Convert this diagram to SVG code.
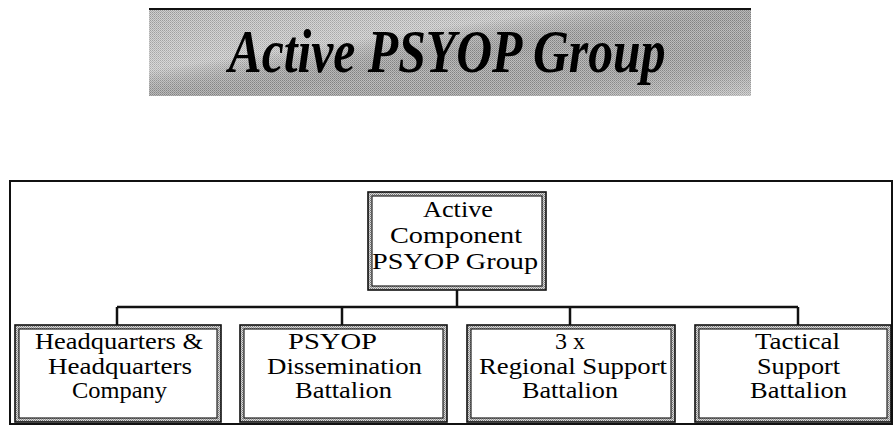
<svg xmlns="http://www.w3.org/2000/svg" width="894" height="425" viewBox="0 0 894 425">
<style>
.t{font-family:"Liberation Serif","Times New Roman",serif;font-size:24px;fill:#000;text-anchor:middle}
.ttl{font-family:"Liberation Serif","Times New Roman",serif;font-size:61px;font-weight:bold;font-style:italic;fill:#000;text-anchor:middle}
.ob{fill:url(#dots);stroke:#111;stroke-width:1.6}
.ib{fill:#fff;stroke:#222;stroke-width:1.2}
.con{stroke:#111;stroke-width:2.5;fill:none}
</style>
<defs>
<pattern id="dots" width="2" height="2" patternUnits="userSpaceOnUse">
<rect width="2" height="2" fill="#d8d8d8"/>
<rect width="1" height="1" fill="#777"/>
<rect x="1" y="1" width="1" height="1" fill="#999"/>
</pattern>
<pattern id="ban" width="2" height="2" patternUnits="userSpaceOnUse">
<rect width="2" height="2" fill="#c8c8c8"/>
<rect width="1" height="1" fill="#8a8a8a"/>
<rect x="1" y="1" width="1" height="1" fill="#a0a0a0"/>
</pattern>
<linearGradient id="sky" x1="0" y1="0" x2="1" y2="1">
<stop offset="0" stop-color="#fff" stop-opacity="0.1"/>
<stop offset="0.35" stop-color="#fff" stop-opacity="0.3"/>
<stop offset="0.6" stop-color="#000" stop-opacity="0.05"/>
<stop offset="1" stop-color="#fff" stop-opacity="0.25"/>
</linearGradient>
</defs>
<g id="banner">
<rect x="149" y="8" width="602" height="88" fill="url(#ban)"/>
<rect x="149" y="8" width="602" height="88" fill="url(#sky)"/>
<line x1="149" y1="9" x2="751" y2="9" stroke="#111" stroke-width="2"/>
<text class="ttl" x="447" y="72" textLength="437" lengthAdjust="spacingAndGlyphs">Active PSYOP Group</text>
</g>
<g id="frame">
<rect x="10" y="181" width="882" height="243" fill="none" stroke="#111" stroke-width="2"/>
</g>
<g id="connectors">
<line class="con" x1="457" y1="290" x2="457" y2="307"/>
<line class="con" x1="117" y1="307" x2="798" y2="307"/>
<line class="con" x1="117" y1="307" x2="117" y2="325"/>
<line class="con" x1="342" y1="307" x2="342" y2="325"/>
<line class="con" x1="570" y1="307" x2="570" y2="325"/>
<line class="con" x1="798" y1="307" x2="798" y2="325"/>
</g>
<g id="n-top">
<rect class="ob" x="368" y="192" width="178" height="98"/>
<rect class="ib" x="372" y="196" width="170" height="90"/>
<text class="t" x="458" y="217" textLength="70" lengthAdjust="spacingAndGlyphs">Active</text>
<text class="t" x="456" y="243" textLength="132" lengthAdjust="spacingAndGlyphs">Component</text>
<text class="t" x="455" y="269" textLength="166" lengthAdjust="spacingAndGlyphs">PSYOP Group</text>
</g>
<g id="n-hhc">
<rect class="ob" x="15" y="325" width="206" height="97"/>
<rect class="ib" x="19" y="329" width="198" height="89"/>
<text class="t" x="119" y="349" textLength="168" lengthAdjust="spacingAndGlyphs">Headquarters &amp;</text>
<text class="t" x="120" y="374" textLength="144" lengthAdjust="spacingAndGlyphs">Headquarters</text>
<text class="t" x="119.5" y="398" textLength="95" lengthAdjust="spacingAndGlyphs">Company</text>
</g>
<g id="n-dissem">
<rect class="ob" x="240" y="325" width="207" height="97"/>
<rect class="ib" x="244" y="329" width="199" height="89"/>
<text class="t" x="332.5" y="349" textLength="89" lengthAdjust="spacingAndGlyphs">PSYOP</text>
<text class="t" x="344.5" y="374" textLength="155" lengthAdjust="spacingAndGlyphs">Dissemination</text>
<text class="t" x="343.5" y="398" textLength="97" lengthAdjust="spacingAndGlyphs">Battalion</text>
</g>
<g id="n-regional">
<rect class="ob" x="467" y="325" width="208" height="97"/>
<rect class="ib" x="471" y="329" width="200" height="89"/>
<text class="t" x="570" y="349" textLength="30" lengthAdjust="spacingAndGlyphs">3 x</text>
<text class="t" x="573" y="374" textLength="188" lengthAdjust="spacingAndGlyphs">Regional Support</text>
<text class="t" x="570" y="398" textLength="96" lengthAdjust="spacingAndGlyphs">Battalion</text>
</g>
<g id="n-tactical">
<rect class="ob" x="695" y="325" width="196" height="97"/>
<rect class="ib" x="699" y="329" width="188" height="89"/>
<text class="t" x="797.5" y="349" textLength="85" lengthAdjust="spacingAndGlyphs">Tactical</text>
<text class="t" x="798.5" y="374" textLength="83" lengthAdjust="spacingAndGlyphs">Support</text>
<text class="t" x="798.5" y="398" textLength="97" lengthAdjust="spacingAndGlyphs">Battalion</text>
</g>
</svg>
